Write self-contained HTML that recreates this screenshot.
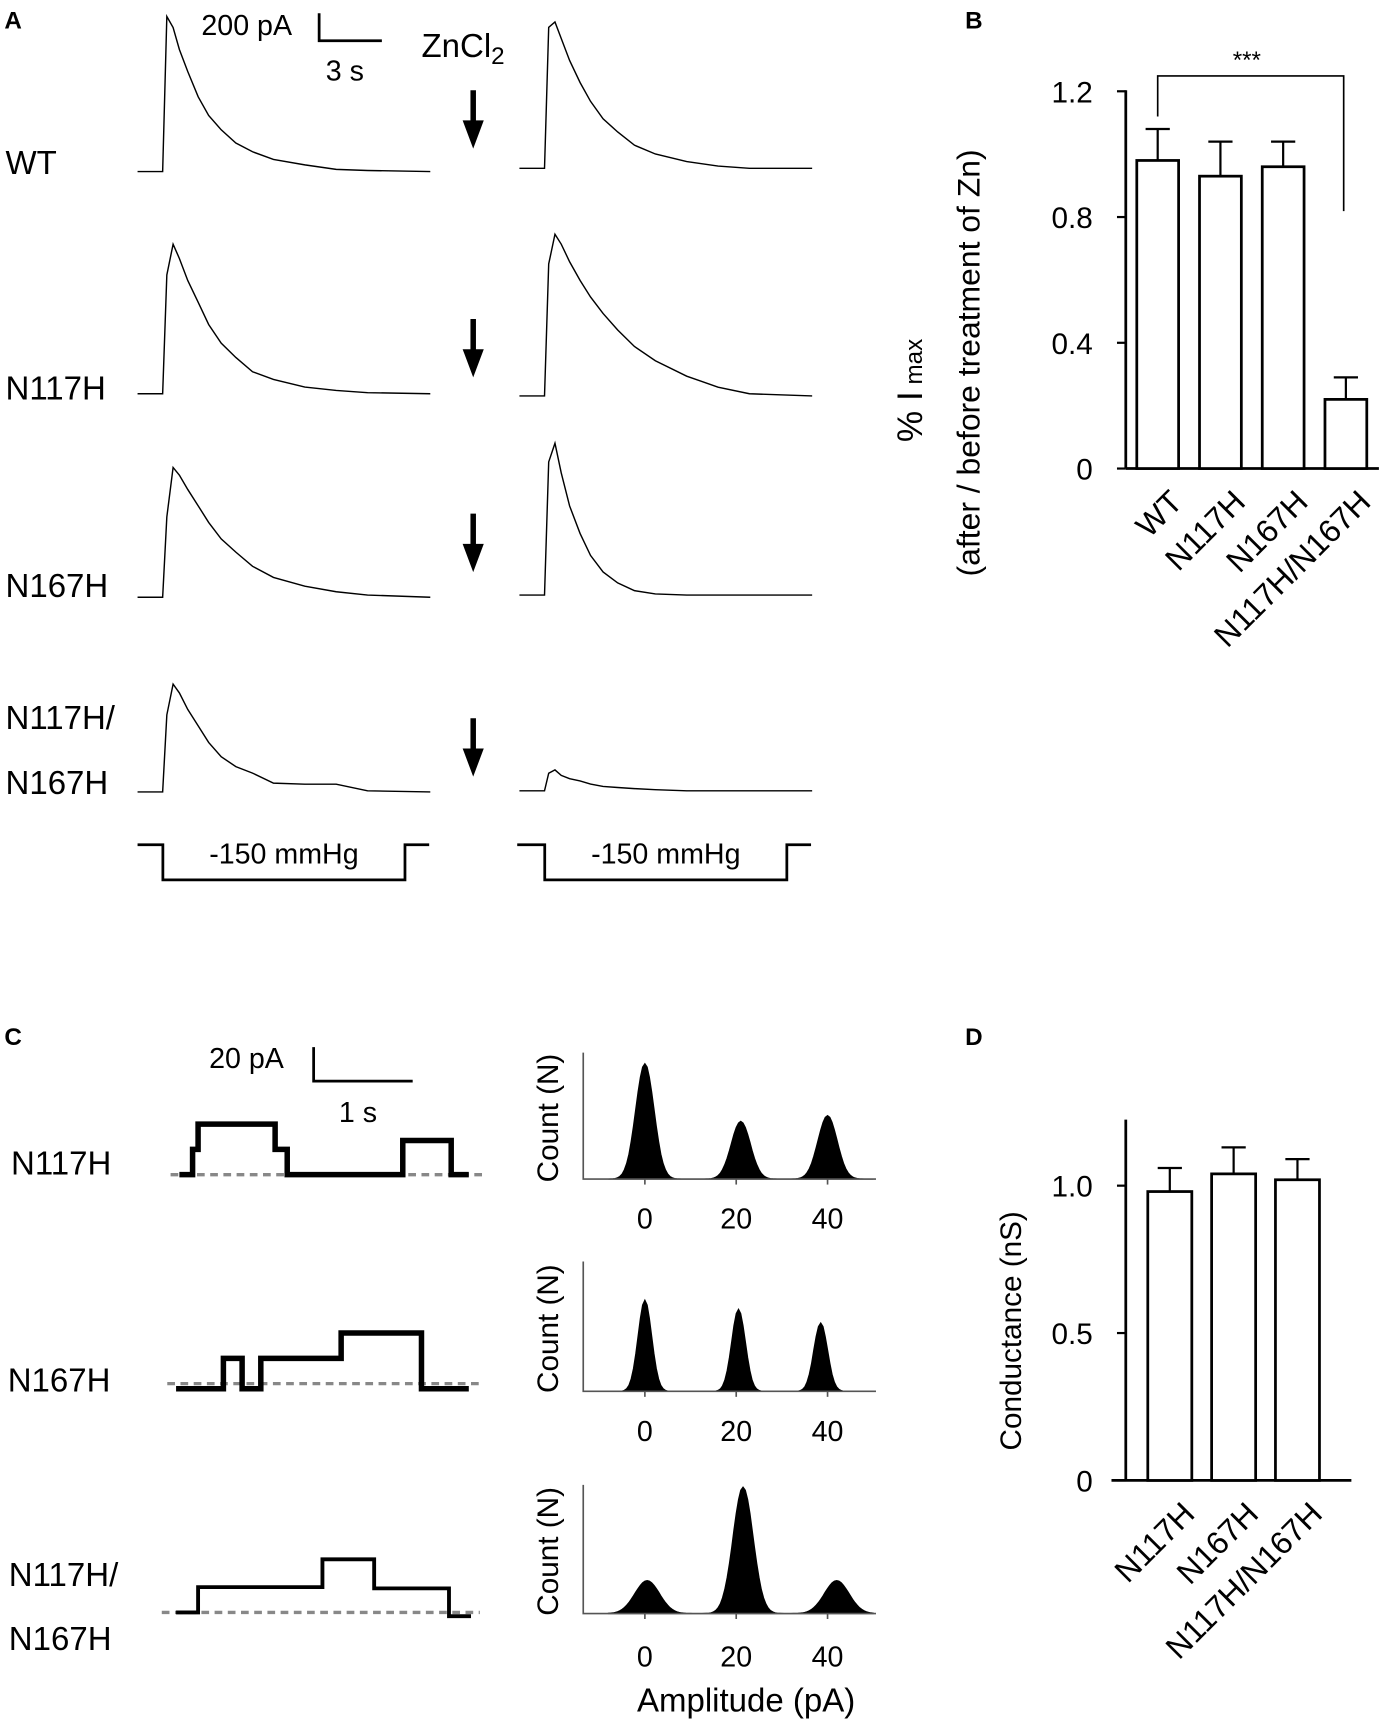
<!DOCTYPE html>
<html><head><meta charset="utf-8"><style>
html,body{margin:0;padding:0;background:#fff;}
svg{display:block;font-family:"Liberation Sans",Arial,sans-serif;}
</style></head><body>
<svg id="fig" width="1391" height="1729" viewBox="0 0 1264 1572" preserveAspectRatio="none" xmlns="http://www.w3.org/2000/svg">
<rect width="1264" height="1572" fill="#fff"/>
<text x="4" y="26" font-size="22" font-weight="bold">A</text>
<text x="877" y="26" font-size="22" font-weight="bold">B</text>
<text x="4" y="950" font-size="22" font-weight="bold">C</text>
<text x="877" y="950" font-size="22" font-weight="bold">D</text>

<g font-size="30">
<text x="183" y="32" font-size="26">200 pA</text>
<path d="M290 12 V37 H347" fill="none" stroke="#000" stroke-width="2.5"/>
<text x="296" y="73" font-size="26">3 s</text>
<text x="383" y="52">ZnCl<tspan font-size="22" dy="6">2</tspan></text>
<text x="5" y="158">WT</text>
<text x="5" y="363">N117H</text>
<text x="5" y="543">N167H</text>
<text x="5" y="663">N117H/</text>
<text x="5" y="722">N167H</text>
<path d="M125 768 H148 V800 H368 V768 H390" fill="none" stroke="#000" stroke-width="2.5"/>
<text x="258" y="785" font-size="26" text-anchor="middle">-150 mmHg</text>
<path d="M470 768 H495 V800 H715 V768 H737" fill="none" stroke="#000" stroke-width="2.5"/>
<text x="605" y="785" font-size="26" text-anchor="middle">-150 mmHg</text>
</g>
<g id="traces"></g>
<g id="panelB"></g>
<g id="panelC"></g>
<g id="panelD"></g>
</svg>
<script>
// ---------- Panel A data ----------
const traceTimes = [0,1.2,1.4,1.7,2.0,2.4,2.9,3.4,4.0,4.7,5.5,6.5,8.0,9.5,11,14]; // s
const wtBefore   = [0,0,1282,1191,1009,827,618,464,345,236,164,100,55,18,9,0];
const wtAfter    = [0,0,1164,1209,1073,891,709,554,409,300,191,118,55,18,0,0];
const n117Before = [0,0,982,1236,1118,936,755,573,418,300,182,118,55,27,9,0];
const n117After  = [0,0,1091,1336,1254,1109,955,818,682,545,409,291,164,73,18,0];
const n167Before = [0,0,664,1073,1009,891,755,618,482,373,255,164,91,45,18,0];
const n167After  = [0,0,1100,1254,1009,736,509,327,191,100,36,9,0,0,0,0];
const dblBefore  = [0,0,636,891,818,682,545,409,291,209,155,73,64,64,9,0];
const dblAfter   = [0,0,145,173,127,100,82,55,36,27,18,9,0,0,0,0];
const rowBaselines = [156,358,543,720];
const rightBaselines = [153,360,541,719];
const arrowTops = [82,290,467,653];

// ---------- Panel B data ----------
const bCats = ["WT","N117H","N167H","N117H/N167H"];
const bMeans = [0.98,0.93,0.96,0.22];
const bErrs  = [0.10,0.11,0.08,0.07];
const bTicks = [0,0.4,0.8,1.2];
const bTickLabels = ["0","0.4","0.8","1.2"];

// ---------- Panel C data ----------
const histCenters1 = [0,21,40], histHeights1=[1.0,0.5,0.55], histWidths1=[2.0,2.1,2.1];
const histCenters2 = [0,20.5,38.5], histHeights2=[1.0,0.9,0.75], histWidths2=[1.5,1.5,1.5];
const histCenters3 = [0.5,21.5,42], histHeights3=[0.26,1.0,0.26], histWidths3=[2.7,2.2,2.7];
const histTicks = [0,20,40];
const histTickLabels = ["0","20","40"];
const scTimes1 = [0,0.12,0.17,0.87,0.98,2.03,2.47,2.63];
const scLevels1 = [0,1,2,1,0,1.35,0];
const scTimes2 = [0,0.43,0.6,0.77,1.5,2.23,2.66];
const scLevels2 = [-0.2,1,-0.2,1,2,-0.2];
const scTimes3 = [0,0.2,1.33,1.8,2.48,2.68];
const scLevels3 = [0,1,2.1,0.95,-0.15];

// ---------- Panel D data ----------
const dCats = ["N117H","N167H","N117H/N167H"];
const dMeans = [0.98,1.04,1.02];
const dErrs  = [0.08,0.09,0.07];
const dTicks = [0,0.5,1.0];
const dTickLabels = ["0","0.5","1.0"];

const NS="http://www.w3.org/2000/svg";
function mk(tag, attrs, parent){const e=document.createElementNS(NS,tag);for(const k in attrs)e.setAttribute(k,attrs[k]);parent.appendChild(e);return e;}

const tr=document.getElementById('traces');
const pxPerS=19, pxPerPA=1/9.09;
const sets=[[wtBefore,wtAfter],[n117Before,n117After],[n167Before,n167After],[dblBefore,dblAfter]];
const names=['wt','n117h','n167h','double'];
sets.forEach((pair,i)=>{
  [[125,rowBaselines[i],pair[0],'before'],[472,rightBaselines[i],pair[1],'after']].forEach(([x0,base,vals,lab])=>{
    let pts=traceTimes.map((t,j)=>(x0+t*pxPerS).toFixed(1)+','+(base-vals[j]*pxPerPA).toFixed(1));
    pts.push((x0+265)+','+base);
    const p=mk('polyline',{points:pts.join(' '),fill:'none',stroke:'#000','stroke-width':1.3},tr);
    
    
  });
  const a=mk('path',{d:`M430 ${arrowTops[i]} V${arrowTops[i]+32} M424 ${arrowTops[i]+30} L430 ${arrowTops[i]+46} L436 ${arrowTops[i]+30} Z`,stroke:'#000','stroke-width':5,fill:'#000'},tr);
  
  
});

function barChart(g,cfg){
  const y=v=>cfg.y0-(v/cfg.vmax)*(cfg.y0-cfg.yTop);
  mk('line',{x1:cfg.ax,y1:cfg.axTop,x2:cfg.ax,y2:cfg.y0,stroke:'#000','stroke-width':2.5},g);
  mk('line',{x1:cfg.ax-(cfg.axLeftExt||0),y1:cfg.y0,x2:cfg.axEnd,y2:cfg.y0,stroke:'#000','stroke-width':2.5},g);
  cfg.ticks.forEach((t,i)=>{
    mk('line',{x1:cfg.ax-8,y1:y(t),x2:cfg.ax,y2:y(t),stroke:'#000','stroke-width':2},g);
    const tx=mk('text',{x:cfg.ax-30,y:y(t)+10,'font-size':27,'text-anchor':'end'},g);
    tx.textContent=cfg.tickLabels[i];
    
    
  });
  cfg.means.forEach((m,i)=>{
    const cx=cfg.x0+i*cfg.step;
    const eTop=y(m+cfg.errs[i]);
    mk('line',{x1:cx,y1:y(m),x2:cx,y2:eTop,stroke:'#000','stroke-width':2},g);
    mk('line',{x1:cx-11,y1:eTop,x2:cx+11,y2:eTop,stroke:'#000','stroke-width':2},g);
    const r=mk('rect',{x:cx-cfg.bw/2,y:y(m),width:cfg.bw,height:cfg.y0-y(m),fill:'#fff',stroke:'#000','stroke-width':2.5},g);
    
    
    const lx=cx+10, ly=cfg.y0+18;
    const t=mk('text',{x:lx,y:ly,'font-size':29,'text-anchor':'end',transform:`rotate(-45 ${lx} ${ly})`,dy:20},g);
    t.textContent=cfg.cats[i];
    
    
  });
  return y;
}
const gB=document.getElementById('panelB');
const yB=barChart(gB,{ax:1023,axTop:82,y0:426,yTop:83,vmax:1.2,axEnd:1253,ticks:bTicks,tickLabels:bTickLabels,means:bMeans,errs:bErrs,cats:bCats,x0:1052,step:57,bw:38});
mk('path',{d:`M1052 ${yB(1.12)} V69 H1221 V192`,fill:'none',stroke:'#000','stroke-width':1.5},gB);
let st=mk('text',{x:1133,y:62,'font-size':22,'text-anchor':'middle'},gB);st.textContent='***';


let yl=mk('text',{x:0,y:0,'font-size':32,'text-anchor':'middle',transform:'translate(838 355) rotate(-90)'},gB);
yl.innerHTML='% I<tspan font-size="22"> max</tspan>';


let yl2=mk('text',{x:0,y:0,'font-size':29,'text-anchor':'middle',transform:'translate(890 330) rotate(-90)'},gB);
yl2.textContent='(after / before treatment of Zn)';



const gD=document.getElementById('panelD');
barChart(gD,{ax:1023,axTop:1018,y0:1346,yTop:1078,vmax:1.0,axEnd:1228,axLeftExt:13,ticks:dTicks,tickLabels:dTickLabels,means:dMeans,errs:dErrs,cats:dCats,x0:1063,step:58,bw:40});
let yd=mk('text',{x:0,y:0,'font-size':27,'text-anchor':'middle',transform:'translate(928 1210) rotate(-90)'},gD);
yd.textContent='Conductance (nS)';



const gC=document.getElementById('panelC');
const sc=mk('g',{'font-size':30},gC);
[['N117H',10,1068],['N167H',7,1265],['N117H/',8,1442],['N167H',8,1500]].forEach(([s,x,y])=>{
  const t=mk('text',{x:x,y:y},sc);t.textContent=s;
  
  
});
let s1=mk('text',{x:190,y:971,'font-size':26},gC);s1.textContent='20 pA';


mk('path',{d:'M285 952 V983 H375',fill:'none',stroke:'#000','stroke-width':2.5},gC);
let s2=mk('text',{x:308,y:1020,'font-size':26},gC);s2.textContent='1 s';


const scPx=100, levelPx=23;
[[scTimes1,scLevels1,163,1068,155,442,5],[scTimes2,scLevels2,160,1258,152,440,5],[scTimes3,scLevels3,160,1466,147,436,3.5]].forEach(([ts,ls,x0,base,d0,d1,w],k)=>{
  const dl=mk('line',{x1:d0,y1:base,x2:d1,y2:base,stroke:'#888','stroke-width':3,'stroke-dasharray':'7 5'},gC);
  
  
  let d='';
  ls.forEach((l,i)=>{const yy=base-l*levelPx;const xa=x0+ts[i]*scPx, xb=x0+ts[i+1]*scPx;d+=(i?'L':'M')+xa+' '+yy+' L'+xb+' '+yy+' ';});
  const p=mk('path',{d:d,fill:'none',stroke:'#000','stroke-width':w},gC);
  
  
});
const hx=v=>586+v*4.15;
[[histCenters1,histHeights1,histWidths1,957,1072,105,1117],[histCenters2,histHeights2,histWidths2,1147,1265,83,1310],[histCenters3,histHeights3,histWidths3,1350,1467,115,1515]].forEach(([cs,hs,ws,top,base,hmax,ly],k)=>{
  const g=mk('g',{},gC);
  
  
  let d='M'+hx(-8)+' '+base;
  for(let a=-8;a<=50;a+=0.5){let v=0;cs.forEach((c,i)=>{v+=hs[i]*Math.exp(-0.5*((a-c)/ws[i])**2);});d+=' L'+hx(a).toFixed(1)+' '+(base-v*hmax).toFixed(1);}
  d+=' L'+hx(50)+' '+base+'Z';
  mk('path',{d:d,fill:'#000',stroke:'#000','stroke-width':1},g);
  mk('path',{d:`M530 ${top} V${base} H796`,fill:'none',stroke:'#555','stroke-width':1.5},g);
  histTicks.forEach((t,i)=>{
    mk('line',{x1:hx(t),y1:base,x2:hx(t),y2:base+5,stroke:'#555','stroke-width':1.5},g);
    const tx=mk('text',{x:hx(t),y:ly,'font-size':26,'text-anchor':'middle'},g);tx.textContent=histTickLabels[i];
    
    
  });
  const yt=mk('text',{x:0,y:0,'font-size':27,'text-anchor':'middle',transform:`translate(507 ${(top+base)/2+2}) rotate(-90)`},g);
  yt.textContent='Count (N)';
  
  
});
let ax=mk('text',{x:678,y:1556,'font-size':30,'text-anchor':'middle'},gC);ax.textContent='Amplitude (pA)';


</script>
</body></html>
